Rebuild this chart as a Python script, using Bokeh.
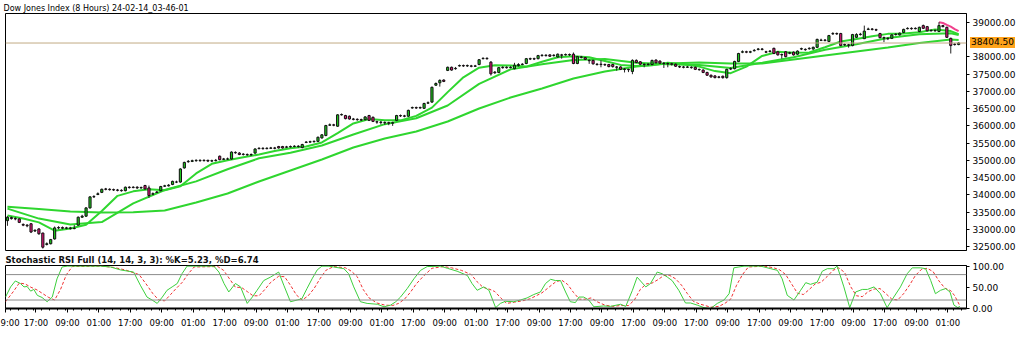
from bokeh.plotting import figure
from bokeh.layouts import column
from bokeh.models import ColumnDataSource, FixedTicker, Span, Range1d, Div
from bokeh.embed import file_html
from bokeh.resources import INLINE

# ---------------- data ----------------
opens = [33250,33340,33310,33300,33140,33120,33160,32950,33010,32890,
 32560,32580,32720,33040,33050,33030,33040,33020,33120,33350,
 33380,33620,33940,34010,34070,34170,34160,34150,34140,34130,
 34120,34220,34210,34220,34200,34270,34200,34020,34070,34120,
 34250,34260,34300,34370,34370,34780,34960,34970,34990,35000,
 34990,35000,34980,34990,35120,35030,35040,35040,35230,35210,
 35180,35170,35160,35210,35340,35350,35340,35350,35360,35400,
 35400,35380,35390,35400,35410,35370,35520,35530,35540,35550,
 35650,35720,36020,36030,35990,36320,36300,36280,36200,36190,
 36180,36180,36300,36250,36120,36110,36100,36090,36080,36160,
 36300,36290,36280,36520,36530,36520,36510,36660,36690,37180,
 37250,37330,37610,37700,37660,37740,37750,37740,37740,37730,
 37780,37950,37960,37850,37540,37550,37690,37700,37690,37660,
 37750,37780,37810,37940,37950,37950,38040,38050,38060,38040,
 38000,38060,38060,38070,38080,37810,38000,37980,37900,37900,
 37790,37780,37780,37780,37780,37710,37710,37650,37640,37580,
 37900,37860,37790,37780,37780,37910,37880,37820,37810,37800,
 37790,37720,37710,37700,37700,37700,37640,37620,37550,37470,
 37450,37420,37440,37400,37650,37660,37870,38140,38150,38140,
 38180,38220,38230,38150,38160,38250,38150,38070,38150,38110,
 38140,38080,38230,38220,38240,38230,38280,38480,38490,38450,
 38670,38680,38680,38350,38350,38330,38570,38650,38530,38800,
 38810,38790,38680,38560,38540,38540,38650,38640,38710,38820,
 38830,38820,38740,38910,38880,38760,38770,38740,38910,38860,
 38540,38370,38360]
closes = [33350,33310,33300,33200,33120,33100,32920,32970,32870,32480,
 32580,32700,33040,33050,33030,33040,33020,33030,33350,33380,
 33620,33940,33950,34030,34160,34160,34150,34140,34130,34120,
 34220,34210,34220,34200,34210,34170,33980,34030,34080,34240,
 34260,34280,34390,34370,34750,34940,34970,34990,35000,34990,
 35000,34980,34990,35000,35020,35040,35040,35240,35220,35170,
 35170,35160,35170,35330,35350,35340,35350,35360,35350,35360,
 35360,35390,35400,35410,35400,35460,35530,35540,35550,35670,
 35740,36010,36030,36020,36320,36330,36210,36200,36190,36180,
 36170,36260,36160,36130,36110,36100,36090,36080,36090,36300,
 36290,36280,36450,36530,36520,36530,36650,36670,37120,37230,
 37320,37290,37700,37620,37670,37750,37740,37750,37730,37740,
 37920,37960,37950,37510,37560,37690,37700,37690,37700,37760,
 37780,37790,37950,37950,37940,38040,38050,38040,38020,38050,
 38080,38050,38070,38060,37810,38010,37990,37930,37890,37800,
 37780,37790,37770,37720,37720,37700,37640,37640,37630,37900,
 37840,37790,37780,37790,37900,37830,37820,37810,37800,37790,
 37730,37710,37700,37710,37690,37640,37630,37550,37470,37420,
 37400,37410,37400,37640,37660,37870,38100,38150,38140,38150,
 38190,38230,38220,38140,38170,38100,38060,38060,38010,38120,
 38060,38170,38240,38210,38250,38280,38510,38490,38480,38620,
 38680,38670,38330,38360,38340,38650,38650,38660,38750,38810,
 38800,38780,38560,38550,38530,38640,38660,38690,38800,38830,
 38820,38830,38860,38830,38760,38770,38760,38910,38880,38570,
 38330,38360,38404.5]
highs = [33380,33370,33350,33320,33170,33150,33180,33000,33030,32900,
 32620,32720,33080,33090,33080,33070,33070,33120,33370,33420,
 33640,33960,33990,34070,34180,34200,34190,34180,34170,34160,
 34240,34250,34250,34250,34240,34290,34270,34070,34110,34260,
 34290,34310,34410,34410,34770,34960,35010,35020,35030,35030,
 35030,35020,35020,35040,35140,35070,35080,35260,35260,35240,
 35210,35200,35200,35350,35380,35380,35380,35390,35390,35420,
 35420,35420,35430,35440,35440,35480,35560,35570,35580,35690,
 35760,36030,36070,36060,36340,36360,36320,36300,36230,36220,
 36210,36280,36320,36270,36150,36140,36130,36120,36120,36320,
 36330,36320,36470,36560,36560,36560,36670,36710,37140,37260,
 37350,37350,37720,37720,37710,37780,37780,37780,37770,37770,
 37940,37990,37990,37880,37590,37710,37730,37730,37730,37830,
 37820,37820,37970,37980,37980,38060,38080,38080,38080,38080,
 38100,38090,38100,38100,38130,38030,38030,38000,37930,37920,
 37820,37900,37810,37800,37800,37740,37730,37680,37660,37930,
 37930,37880,37810,37820,37920,37930,37900,37850,37840,37830,
 37810,37750,37740,37740,37730,37720,37660,37640,37570,37490,
 37470,37450,37460,37660,37700,37890,38120,38190,38180,38180,
 38230,38260,38260,38180,38200,38270,38170,38100,38170,38150,
 38160,38190,38270,38250,38280,38300,38530,38530,38520,38640,
 38720,38710,38700,38390,38380,38670,38690,38700,38910,38850,
 38840,38820,38700,38590,38570,38660,38690,38710,38820,38860,
 38860,38860,38880,38940,38900,38800,38800,39010,38930,38880,
 38560,38400,38430]
lows = [33100,33280,33260,33180,33090,33060,32890,32920,32840,32440,
 32530,32560,32700,33000,33000,33000,32990,33000,33100,33330,
 33360,33600,33910,33990,34050,34130,34120,34110,34100,34090,
 34100,34180,34190,34170,34180,34150,33910,33990,34050,34100,
 34230,34240,34280,34340,34350,34760,34930,34950,34960,34960,
 34970,34950,34950,34970,35000,35010,35010,35020,35190,35150,
 35140,35130,35130,35190,35320,35310,35320,35330,35320,35340,
 35340,35360,35370,35380,35370,35350,35500,35510,35520,35530,
 35630,35700,36000,35990,35970,36300,36190,36180,36160,36150,
 36140,36160,36140,36110,36060,36040,36030,36020,36000,36140,
 36260,36250,36260,36500,36490,36500,36490,36640,36670,37160,
 37140,37270,37590,37600,37630,37720,37710,37710,37700,37710,
 37760,37930,37920,37460,37510,37530,37660,37660,37670,37640,
 37720,37760,37790,37910,37910,37930,38010,38010,38000,38010,
 37980,37950,38040,38030,37790,37790,37960,37910,37800,37780,
 37750,37700,37740,37700,37690,37600,37620,37550,37560,37500,
 37820,37760,37700,37750,37760,37810,37800,37680,37700,37750,
 37710,37680,37670,37680,37660,37620,37600,37530,37450,37400,
 37380,37380,37370,37370,37620,37640,37850,38110,38110,38110,
 38160,38190,38190,38110,38130,38080,38040,37950,37990,38080,
 38040,38060,38200,38180,38210,38210,38260,38460,38450,38430,
 38640,38640,38310,38320,38270,38310,38550,38620,38520,38780,
 38770,38750,38540,38430,38490,38520,38620,38620,38690,38800,
 38790,38800,38720,38810,38740,38740,38730,38720,38860,38550,
 38100,38330,38340]

# moving averages (candle index, price)
fast_idx = [0,4,8,12,16,20,24,28,32,36,40,44,48,52,56,60,64,68,72,76,80,84,88,92,96,100,
            104,108,112,116,120,124,128,132,136,140,144,148,152,156,160,164,168,172,176,180,
            184,188,192,196,200,204,208,212,216,220,224,228,232,236,240,242]
fast_ma = [33400,33310,33200,32960,33020,33130,33530,33970,34100,34160,34130,34250,34620,34900,
           35000,35090,35170,35270,35350,35400,35520,35790,36070,36200,36160,36160,36290,36530,
           36980,37410,37690,37760,37750,37720,37860,37990,38020,37990,37880,37770,37740,37760,
           37830,37790,37720,37590,37530,37720,38030,38150,38120,38130,38280,38450,38520,38600,
           38670,38680,38720,38800,38750,38660]
ma_idx = [0,8,16,24,32,40,48,56,64,72,80,88,96,104,112,120,128,136,144,152,160,168,176,184,
          192,200,208,216,224,232,240,242]
mid_ma = [33600,33310,33140,33210,33750,34140,34390,34740,35060,35220,35430,35750,36050,36220,
          36590,37220,37640,37790,37910,37940,37830,37790,37770,37680,37830,37990,38210,38370,
          38550,38660,38690,38640]
slow_ma = [33650,33590,33515,33486,33495,33544,33776,34038,34386,34705,35024,35372,35634,35837,
           36127,36504,36823,37085,37375,37578,37723,37810,37839,37810,37810,37926,38042,38158,
           38274,38405,38507,38492]
pink_idx = [237,238,239,240,241,242]
pink_ma = [39010,38985,38930,38880,38810,38750]

# stochastic RSI  (%K green, %D red dashed)
k_idx = [-0.5,0.8,2,3.3,4.2,5,5.9,6.7,7.6,8.8,10.1,11.4,12.6,13.9,15.2,23.7,26.2,28.8,32.1,33.8,
         35.5,36.8,38.1,39.4,40.6,41.9,43.2,44.4,45.7,52.5,53.8,55.1,56.3,58,59.3,61,62.3,63.5,
         65.2,66.9,69,70.3,72,73.7,74.9,76.2,77.5,78.8,80,81.8,83,85.6,86.8,88.1,89.8,91.5,94.1,
         95.8,97.5,98.8,100,101.7,103.4,105.1,106.8,110.2,111.9,114.4,117,118.2,119.5,121.2,
         122.5,124.2,125.4,126.7,128.8,130.5,132.2,133.9,135.6,136.9,138.2,139.4,140.7,142,
         143.2,144.5,145.4,146.6,147.9,149.2,151.7,153.4,156,157.3,159,160.2,162.4,163.6,165.3,
         166.6,167.9,169.1,170.8,172.5,173.8,175.5,177.2,178.9,180.6,182.3,183.6,184.8,186.1,
         187.4,191.6,194.2,195.9,197.1,198.4,200.1,201.8,203.1,204.3,206,207.3,208.6,210.3,
         211.1,212.8,214.3,215.8,217.5,218.8,220.5,222.1,223.8,225.5,227.2,228.9,230.2,232.3,
         233.6,234.9,236.1,237.4,238.7,239.8,240.8,241.8,242.3]
k_vals = [27,51,65,59,51,52,41,45,31,26,16,27,70,98,100,100,98,91,86,55,
          27,20,12,27,43,51,59,82,100,100,86,59,39,59,51,12,27,43,
          66,74,86,55,16,20,23,47,70,91,100,100,98,94,82,51,16,12,10,
          4,8,16,27,47,70,90,99,100,95,88,78,59,43,51,
          43,2,12,17,16,20,25,33,39,59,69,66,66,39,
          16,14,27,27,20,4,6,5,10,5,43,74,51,59,86,
          82,74,66,43,13,13,8,2,0,12,20,35,96,98,
          100,100,94,90,70,31,20,43,61,57,62,88,94,94,
          100,51,2,39,45,45,51,35,2,27,51,82,96,96,
          94,66,35,43,47,39,8,2,5.23]
d_idx = [-0.5,1.5,3,4.5,6,7.5,9,10.5,12,13.5,15,16.5,24,27,30,33.5,35.5,37,38.5,40,41.5,43,
         44.5,46,47.5,53.5,55,56.5,58,59.5,61,62.5,64,65.5,67,69,70.5,72,73.5,75,76.5,78,79.5,
         81,83,86,87.5,89,90.5,92,94,96,98,99.5,101,102.5,104,106,108,111,113,115.5,118,119.5,
         121,122.5,124,125.5,127,129,131,133,134.5,136,138,139.5,141,142.5,144,145.5,147,148.5,
         150,152,154,156,158,159.5,161,162.5,164,165.5,167,168.5,170,171.5,173,174.5,176,177.5,
         179,181,182.5,184,185.5,187,188.5,192.5,195,196.5,198,199.5,201,202.5,204,205.5,207,
         208.5,210,211.5,213,214.5,216,217.5,219,220.5,222,223.5,225,226.5,228,229.5,231,232.5,
         234,235.5,237,238.5,240,241,242.3]
d_vals = [16,40,60,58,50,44,35,26,20,45,80,99,100,97,91,80,55,35,20,18,33,48,
          62,82,98,99,90,70,50,50,40,30,30,45,62,76,75,55,32,20,30,47,70,
          90,99,96,88,75,45,25,13,8,7,12,22,38,58,78,95,99,96,90,80,63,
          50,46,40,25,12,15,18,23,30,37,52,63,67,57,38,22,22,25,
          16,8,5,7,7,20,45,58,60,68,78,78,70,55,35,17,11,7,
          3,5,12,22,55,80,98,100,96,91,80,58,36,33,45,58,62,
          75,90,96,85,52,30,28,40,46,47,35,22,20,35,55,78,92,
          95,87,65,48,42,30,6.74]

price_ticks = [32500,33000,33500,34000,34500,35000,35500,36000,36500,37000,37500,38000,39000]
price_tick_labels = ["32500.00","33000.00","33500.00","34000.00","34500.00","35000.00","35500.00",
                     "36000.00","36500.00","37000.00","37500.00","38000.00","39000.00"]
last_price = 38404.50
last_price_label = "38404.50"

time_tick_idx = [-0.45, 7.25, 15.25, 23.25, 31.25, 39.25, 47.25, 55.25, 63.25, 71.25, 79.25, 87.25,
                 95.25, 103.25, 111.25, 119.25, 127.25, 135.25, 143.25, 151.25, 159.25, 167.25,
                 175.25, 183.25, 191.25, 199.25, 207.25, 215.25, 223.25, 231.25, 239.25]
time_tick_labels = ["9:00", "17:00","09:00","01:00","17:00","09:00","01:00","17:00","09:00","01:00",
                    "17:00","09:00","01:00","17:00","09:00","01:00","17:00","09:00","17:00","09:00",
                    "17:00","09:00","17:00","09:00","17:00","09:00","17:00","09:00","17:00","09:00",
                    "01:00"]
stoch_ticks = [0, 50, 100]
stoch_tick_labels = ["0.00", "50.00", "100.00"]

main_title = "Dow Jones Index (8 Hours) 24-02-14_03-46-01"
stoch_title = "Stochastic RSI Full (14, 14, 3, 3): %K=5.23, %D=6.74"

# ---------------- styling ----------------
FONT = "DejaVu Sans"
UP = "#1ec81e"
DOWN = "#e0157a"
MA_COL = "#2fd62f"

idx = list(range(len(closes)))
src = ColumnDataSource(dict(
    x=idx, high=highs, low=lows,
    top=[max(o, c) for o, c in zip(opens, closes)],
    bottom=[min(o, c) for o, c in zip(opens, closes)],
    color=[UP if c >= o else DOWN for o, c in zip(opens, closes)],
))

xr = Range1d(-0.5, 244.0)
yr1 = Range1d(32384, 39261)

p1 = figure(width=1024, height=251, x_range=xr, y_range=yr1,
            x_axis_location=None, y_axis_location="right",
            output_backend="svg", toolbar_location=None,
            min_border_left=5, min_border_right=58, min_border_top=13, min_border_bottom=1)
p1.title.text = main_title
p1.title.text_font = FONT
p1.title.text_font_size = "8px"
p1.title.text_font_style = "normal"
p1.title.text_color = "#000000"
p1.title.align = "left"
p1.title.standoff = 1
p1.title.offset = -2
p1.grid.visible = False
p1.outline_line_color = "black"
p1.background_fill_color = "white"
p1.border_fill_color = "white"

ya = p1.yaxis[0]
ya.ticker = FixedTicker(ticks=price_ticks, minor_ticks=[])
ya.major_label_overrides = dict(zip(price_ticks, price_tick_labels))
ya.major_label_text_font = FONT
ya.major_label_text_font_size = "9px"
ya.major_label_text_color = "black"
ya.major_tick_in = 0
ya.major_tick_out = 3
ya.major_label_standoff = 3
ya.axis_line_color = "black"

p1.add_layout(Span(location=last_price, dimension="width", line_color="#c2ab84", line_width=1))

p1.line(ma_idx, slow_ma, line_color=MA_COL, line_width=2)
p1.line(ma_idx, mid_ma, line_color=MA_COL, line_width=2)
p1.line(fast_idx, fast_ma, line_color=MA_COL, line_width=2)
p1.line(pink_idx, pink_ma, line_color="#f0418c", line_width=2)

p1.segment(x0="x", y0="low", x1="x", y1="high", line_color="#222222", line_width=1, source=src)
p1.vbar(x="x", width=0.55, top="top", bottom="bottom", fill_color="color",
        line_color="#111111", line_width=1, source=src)

# ---------------- price tag over the right axis (HTML overlay) ----------------
# vertical pixel position of the last price inside the top panel (frame: 13 px .. 250 px)
frame_top, frame_bottom = 13, 250
tag_y = frame_top + (yr1.end - last_price) / (yr1.end - yr1.start) * (frame_bottom - frame_top)
tag_html = ('<div style="position:absolute;left:970px;top:%dpx;height:11px;line-height:11px;'
            'padding:0 1px;background:#ffa31a;color:#000;font-family:\'DejaVu Sans\';'
            'font-size:9px;white-space:nowrap;z-index:50;">%s</div>'
            % (round(tag_y - 5.5), last_price_label))
tag_div = Div(text=tag_html, width=1024, height=0, margin=0,
              styles={"position": "relative", "z-index": "50", "overflow": "visible"})

# ---------------- stochastic panel ----------------
p2 = figure(width=1024, height=93, x_range=xr, y_range=Range1d(0, 101.5),
            y_axis_location="right", output_backend="svg", toolbar_location=None,
            min_border_left=5, min_border_right=58, min_border_top=14, min_border_bottom=36)
p2.title.text = stoch_title
p2.title.text_font = FONT
p2.title.text_font_size = "8.5px"
p2.title.text_font_style = "bold"
p2.title.text_color = "#111111"
p2.title.align = "left"
p2.title.standoff = 1
p2.title.offset = 0
p2.grid.visible = False
p2.outline_line_color = "black"

xa = p2.xaxis[0]
xa.ticker = FixedTicker(ticks=time_tick_idx, minor_ticks=[t + 0.75 for t in range(0, 244, 2)])
xa.major_label_overrides = dict(zip(time_tick_idx, time_tick_labels))
xa.major_label_text_font = FONT
xa.major_label_text_font_size = "8.5px"
xa.major_label_text_color = "black"
xa.major_tick_in = 0
xa.major_tick_out = 4
xa.minor_tick_in = 0
xa.minor_tick_out = 2
xa.major_label_standoff = 5
xa.axis_line_width = 2
xa.axis_line_color = "black"

ya2 = p2.yaxis[0]
ya2.ticker = FixedTicker(ticks=stoch_ticks, minor_ticks=[])
ya2.major_label_overrides = dict(zip(stoch_ticks, stoch_tick_labels))
ya2.major_label_text_font = FONT
ya2.major_label_text_font_size = "9px"
ya2.major_label_text_color = "black"
ya2.major_tick_in = 0
ya2.major_tick_out = 3
ya2.major_label_standoff = 3
ya2.axis_line_color = "black"

for lvl in (80, 20):
    p2.add_layout(Span(location=lvl, dimension="width", line_color="#8c8c8c", line_width=1))

p2.line(d_idx, d_vals, line_color="#f03030", line_width=1, line_dash="3 2")
p2.line(k_idx, k_vals, line_color="#3ccf3c", line_width=1)

layout = column(tag_div, p1, p2, spacing=0)
open("out.html", "w").write(file_html(layout, INLINE))
